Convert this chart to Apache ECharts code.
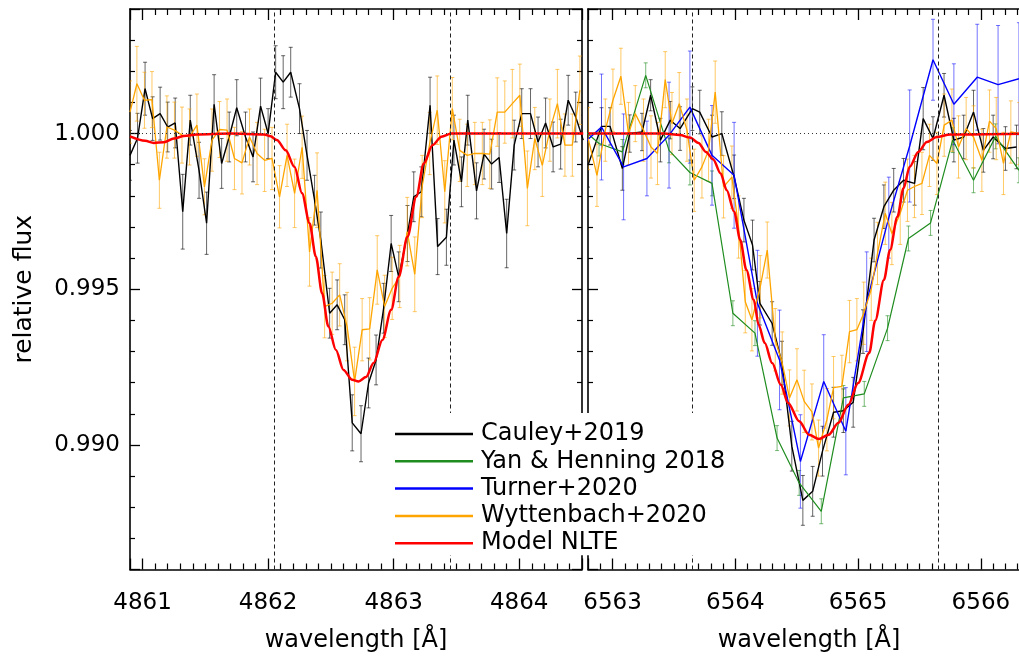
<!DOCTYPE html>
<html>
<head>
<meta charset="utf-8">
<script src="https://cdn.jsdelivr.net/npm/echarts@6/dist/echarts.min.js"></script>
<style>
  html, body { margin: 0; padding: 0; background: #fff; }
  #chart { width: 1019px; height: 657px; }
</style>
</head>
<body>
<div id="chart"></div>
<script>
// ---------------- H-beta panel (left) ----------------
const hbCauleyWave = [4860.90, 4860.96, 4861.02, 4861.08, 4861.14, 4861.20, 4861.26, 4861.32, 4861.38, 4861.45,
  4861.51, 4861.57, 4861.63, 4861.69, 4861.75, 4861.82, 4861.88, 4861.94, 4862.00, 4862.06,
  4862.12, 4862.18, 4862.25, 4862.31, 4862.37, 4862.42, 4862.49, 4862.55, 4862.61, 4862.67,
  4862.74, 4862.80, 4862.86, 4862.92, 4862.98, 4863.04, 4863.11, 4863.16, 4863.22, 4863.29,
  4863.35, 4863.42, 4863.48, 4863.54, 4863.59, 4863.66, 4863.72, 4863.78, 4863.84, 4863.90,
  4863.96, 4864.02, 4864.09, 4864.15, 4864.21, 4864.27, 4864.33, 4864.39, 4864.45, 4864.51];
const hbCauleyFlux = [0.99930, 0.99985, 1.00144, 1.00048, 1.00064, 1.00021, 1.00034, 0.99749, 1.00043, 0.99882,
  0.99712, 1.00094, 0.99904, 0.99989, 1.00083, 0.99989, 0.99925, 1.00088, 1.00000, 1.00197,
  1.00165, 1.00197, 1.00080, 0.99930, 0.99786, 0.99658, 0.99423, 0.99450, 0.99402, 0.99071,
  0.99036, 0.99199, 0.99273, 0.99439, 0.99647, 0.99540, 0.99679, 0.99797, 0.99813, 1.00091,
  0.99637, 0.99667, 0.99979, 0.99845, 1.00043, 0.99816, 0.99934, 0.99902, 0.99923, 0.99679,
  0.99963, 1.00064, 1.00064, 0.99973, 1.00034, 0.99957, 0.99966, 1.00107, 1.00053, 0.99979];
const hbCauleyErr = [0.0008, 0.0008, 0.00085, 0.0007, 0.00085, 0.0008, 0.0008, 0.0012, 0.0008, 0.0009,
  0.0010, 0.00095, 0.0008, 0.0008, 0.0009, 0.0008, 0.0008, 0.0009, 0.0008, 0.00085,
  0.00085, 0.0008, 0.0008, 0.0008, 0.0008, 0.0009, 0.0008, 0.0008, 0.0008, 0.0009,
  0.0009, 0.0008, 0.0008, 0.0008, 0.0009, 0.0008, 0.0009, 0.0008, 0.0008, 0.0009,
  0.0009, 0.0009, 0.0008, 0.0008, 0.0008, 0.0009, 0.0008, 0.0008, 0.0008, 0.0011,
  0.0008, 0.0008, 0.0008, 0.0008, 0.0008, 0.0008, 0.0008, 0.0008, 0.0008, 0.0008];

const hbWyttWave = [4860.900, 4860.955, 4861.015, 4861.075, 4861.134, 4861.194, 4861.254, 4861.314, 4861.374, 4861.433,
  4861.493, 4861.553, 4861.613, 4861.673, 4861.732, 4861.792, 4861.852, 4861.912, 4861.972, 4862.031,
  4862.091, 4862.151, 4862.211, 4862.271, 4862.330, 4862.390, 4862.450, 4862.510, 4862.570, 4862.629,
  4862.689, 4862.749, 4862.809, 4862.869, 4862.928, 4862.988, 4863.048, 4863.108, 4863.168, 4863.227,
  4863.287, 4863.347, 4863.407, 4863.467, 4863.526, 4863.586, 4863.646, 4863.706, 4863.766, 4863.825,
  4863.885, 4863.945, 4864.005, 4864.065, 4864.124, 4864.184, 4864.244, 4864.304, 4864.364, 4864.423,
  4864.483];
const hbWyttFlux = [1.00069, 1.00160, 1.00107, 1.00109, 0.99850, 1.00021, 1.00011, 0.99995, 0.99989, 1.00027,
  0.99829, 0.99979, 1.00013, 1.00011, 0.99920, 0.99906, 0.99989, 0.99936, 0.99914, 0.99920,
  0.99797, 0.99930, 0.99808, 0.99956, 0.99620, 0.99818, 0.99444, 0.99455, 0.99482, 0.99380,
  0.99204, 0.99370, 0.99373, 0.99562, 0.99445, 0.99503, 0.99541, 0.99685, 0.99548, 0.99830,
  0.99968, 1.00075, 0.99813, 1.00080, 0.99946, 0.99930, 0.99936, 0.99936, 0.99934, 1.00069,
  1.00069, 1.00096, 1.00123, 0.99824, 0.99984, 0.99898, 1.00011, 1.00096, 0.99963, 0.99963,
  1.00139];
const hbWyttErr = [0.0010, 0.0012, 0.0009, 0.0009, 0.0009, 0.0010, 0.0009, 0.0009, 0.0009, 0.0010,
  0.0009, 0.0010, 0.0009, 0.0010, 0.0010, 0.0010, 0.0009, 0.0010, 0.0010, 0.0010,
  0.0010, 0.0010, 0.0011, 0.0010, 0.0011, 0.0012, 0.0010, 0.0010, 0.0010, 0.0011,
  0.0011, 0.0010, 0.0010, 0.0011, 0.0010, 0.0010, 0.0010, 0.0011, 0.0012, 0.0010,
  0.0010, 0.0011, 0.0010, 0.0010, 0.0010, 0.0010, 0.0010, 0.0010, 0.0011, 0.0011,
  0.0010, 0.0011, 0.0010, 0.0012, 0.0010, 0.0010, 0.0010, 0.0011, 0.0010, 0.0010,
  0.0011];

const hbModelWave = [4860.90, 4861.02, 4861.09, 4861.17, 4861.25, 4861.33, 4861.43, 4861.70, 4861.97, 4862.02,
  4862.07, 4862.14, 4862.21, 4862.27, 4862.33, 4862.38, 4862.43, 4862.48, 4862.54, 4862.60,
  4862.67, 4862.72, 4862.78, 4862.84, 4862.91, 4862.98, 4863.04, 4863.11, 4863.18, 4863.24,
  4863.31, 4863.38, 4863.46, 4864.51];
const hbModelFlux = [0.99991, 0.99977, 0.99970, 0.99972, 0.99984, 0.99992, 0.99997, 1.00000, 0.99997, 0.99991,
  0.99979, 0.99946, 0.99893, 0.99808, 0.99712, 0.99605, 0.99487, 0.99380, 0.99305, 0.99241,
  0.99209, 0.99204, 0.99218, 0.99263, 0.99337, 0.99434, 0.99540, 0.99669, 0.99797, 0.99904,
  0.99963, 0.99990, 1.00000, 1.00000];

// ---------------- H-alpha panel (right) ----------------
const haCauleyWave = [6562.80, 6562.91, 6562.98, 6563.08, 6563.14, 6563.24, 6563.31, 6563.39, 6563.47, 6563.55,
  6563.65, 6563.71, 6563.81, 6563.89, 6563.99, 6564.07, 6564.14, 6564.20, 6564.30, 6564.38,
  6564.46, 6564.55, 6564.63, 6564.71, 6564.80, 6564.88, 6564.96, 6565.04, 6565.13, 6565.21,
  6565.29, 6565.37, 6565.46, 6565.53, 6565.61, 6565.70, 6565.78, 6565.86, 6565.94, 6566.02,
  6566.10, 6566.20, 6566.29];
const haCauleyFlux = [0.99898, 1.00023, 1.00023, 0.99888, 1.00000, 1.00005, 1.00123, 0.99979, 1.00043, 1.00016,
  1.00080, 1.00069, 0.99989, 1.00000, 0.99861, 0.99722, 0.99642, 0.99455, 0.99390, 0.99263,
  0.98996, 0.98822, 0.98851, 0.98980, 0.99105, 0.99110, 0.99137, 0.99364, 0.99658, 0.99765,
  0.99818, 0.99850, 0.99840, 1.00048, 0.99984, 1.00123, 0.99979, 0.99989, 1.00069, 0.99946,
  0.99989, 0.99952, 0.99957];
const haCauleyErr = [0.0007, 0.0006, 0.0006, 0.0007, 0.0006, 0.0006, 0.0005, 0.0007, 0.0006, 0.0007,
  0.0007, 0.0007, 0.0007, 0.0007, 0.0007, 0.0007, 0.0008, 0.0007, 0.0007, 0.0007,
  0.0008, 0.0008, 0.0008, 0.0008, 0.0008, 0.0007, 0.0008, 0.0007, 0.0007, 0.0007,
  0.0007, 0.0007, 0.0007, 0.0010, 0.0007, 0.0007, 0.0007, 0.0007, 0.0007, 0.0007,
  0.0007, 0.0007, 0.0007];

const haYanWave = [6562.71, 6562.89, 6563.08, 6563.27, 6563.46, 6563.63, 6563.81, 6563.98, 6564.16, 6564.34,
  6564.52, 6564.70, 6564.88, 6565.05, 6565.24, 6565.41, 6565.59, 6565.77, 6565.94, 6566.12,
  6566.31];
const haYanFlux = [1.00030, 0.99968, 0.99941, 1.00187, 0.99946, 0.99875, 0.99840, 0.99423, 0.99359, 0.99022,
  0.98878, 0.98787, 0.99151, 0.99164, 0.99375, 0.99663, 0.99713, 0.99979, 0.99850, 0.99991,
  0.99882];
const haYanErr = [0.0004, 0.0004, 0.0004, 0.0004, 0.0004, 0.0004, 0.0004, 0.0004, 0.0004, 0.0004,
  0.0004, 0.0004, 0.0004, 0.0004, 0.0004, 0.0004, 0.0004, 0.0004, 0.0004, 0.0004,
  0.0004];

const haTurnerWave = [6562.74, 6562.91, 6563.09, 6563.28, 6563.46, 6563.63, 6563.81, 6563.99, 6564.18, 6564.36,
  6564.53, 6564.72, 6564.90, 6565.07, 6565.25, 6565.42, 6565.61, 6565.78, 6565.97, 6566.14,
  6566.31];
const haTurnerFlux = [0.99960, 1.00021, 0.99893, 0.99920, 0.99995, 1.00085, 0.99930, 0.99866, 0.99455, 0.99273,
  0.98947, 0.99204, 0.99044, 0.99460, 0.99730, 0.99960, 1.00237, 1.00094, 1.00181, 1.00157,
  1.00176];
const haTurnerErr = [0.0016, 0.0017, 0.0017, 0.0012, 0.0017, 0.0018, 0.0016, 0.0017, 0.0017, 0.0016,
  0.0015, 0.0015, 0.0014, 0.0016, 0.0013, 0.0018, 0.0013, 0.0013, 0.0017, 0.0019,
  0.0018];

const haWyttWave = [6562.802, 6562.873, 6562.941, 6563.003, 6563.068, 6563.130, 6563.185, 6563.252, 6563.313, 6563.366,
  6563.429, 6563.484, 6563.543, 6563.606, 6563.665, 6563.728, 6563.782, 6563.836, 6563.904, 6563.972,
  6564.026, 6564.081, 6564.135, 6564.203, 6564.260, 6564.325, 6564.382, 6564.441, 6564.502, 6564.561,
  6564.624, 6564.678, 6564.746, 6564.800, 6564.868, 6564.930, 6564.990, 6565.046, 6565.107, 6565.158,
  6565.221, 6565.275, 6565.343, 6565.402, 6565.459, 6565.520, 6565.581, 6565.642, 6565.701, 6565.764,
  6565.818, 6565.880, 6565.940, 6566.008, 6566.070, 6566.125, 6566.184, 6566.244, 6566.312];
const haWyttFlux = [0.99984, 0.99866, 1.00011, 1.00107, 1.00184, 1.00000, 1.00064, 1.00011, 0.99957, 0.99936,
  1.00173, 1.00032, 1.00096, 1.00011, 0.99850, 0.99893, 0.99946, 1.00133, 0.99829, 0.99860,
  0.99700, 0.99460, 0.99402, 0.99508, 0.99626, 0.99338, 0.99263, 0.99151, 0.99209, 0.99140,
  0.99106, 0.98990, 0.99081, 0.99184, 0.99188, 0.99364, 0.99370, 0.99423, 0.99500, 0.99615,
  0.99744, 0.99679, 0.99744, 0.99818, 0.99830, 0.99840, 0.99930, 0.99904, 1.00027, 1.00043,
  0.99957, 1.00016, 0.99989, 0.99914, 1.00040, 1.00016, 0.99904, 1.00005, 1.00000];
const haWyttErr = [0.0010, 0.0010, 0.0010, 0.0010, 0.0009, 0.0010, 0.0009, 0.0010, 0.0010, 0.0010,
  0.0009, 0.0010, 0.0010, 0.0010, 0.0010, 0.0010, 0.0010, 0.0010, 0.0010, 0.0010,
  0.0010, 0.0010, 0.0010, 0.0010, 0.0009, 0.0010, 0.0010, 0.0009, 0.0010, 0.0010,
  0.0009, 0.0009, 0.0010, 0.0010, 0.0010, 0.0010, 0.0010, 0.0010, 0.0010, 0.0010,
  0.0010, 0.0010, 0.0010, 0.0010, 0.0010, 0.0010, 0.0010, 0.0010, 0.0010, 0.0010,
  0.0010, 0.0010, 0.0010, 0.0010, 0.0010, 0.0010, 0.0010, 0.0010, 0.0010];

const haModelWave = [6562.80, 6563.42, 6563.55, 6563.63, 6563.70, 6563.76, 6563.82, 6563.88, 6563.93, 6563.99,
  6564.04, 6564.09, 6564.15, 6564.19, 6564.24, 6564.30, 6564.37, 6564.43, 6564.52, 6564.60,
  6564.68, 6564.76, 6564.84, 6564.92, 6565.00, 6565.09, 6565.14, 6565.21, 6565.26, 6565.32,
  6565.37, 6565.42, 6565.49, 6565.56, 6565.64, 6565.75, 6566.40];
const haModelFlux = [1.00000, 1.00000, 0.99995, 0.99987, 0.99970, 0.99941, 0.99917, 0.99872, 0.99818, 0.99749,
  0.99658, 0.99562, 0.99466, 0.99385, 0.99327, 0.99263, 0.99193, 0.99135, 0.99076, 0.99033,
  0.99019, 0.99033, 0.99071, 0.99129, 0.99199, 0.99295, 0.99400, 0.99530, 0.99626, 0.99733,
  0.99824, 0.99893, 0.99941, 0.99973, 0.99989, 0.99997, 1.00000];

// reference wavelengths (dashed) and continuum level (dotted)
const hbMarkers = [4862.05, 4863.45];
const haMarkers = [6563.65, 6565.65];
const continuum = 1.0;

// axis ranges
const hbRange = [4860.9, 4864.5];
const haRange = [6562.8, 6566.4];
const fluxRange = [0.986, 1.004];

const legendNames = ['Cauley+2019', 'Yan & Henning 2018', 'Turner+2020', 'Wyttenbach+2020', 'Model NLTE'];
const colors = {
  'Cauley+2019': '#000000',
  'Yan & Henning 2018': '#1e8c1e',
  'Turner+2020': '#0000ff',
  'Wyttenbach+2020': '#ffa500',
  'Model NLTE': '#ff0000'
};
const barColors = {
  'Cauley+2019': 'rgba(0,0,0,0.6)',
  'Yan & Henning 2018': 'rgba(30,140,30,0.6)',
  'Turner+2020': 'rgba(0,0,255,0.55)',
  'Wyttenbach+2020': 'rgba(255,165,0,0.6)'
};

const FONT = 'DejaVu Sans';

const intLabel = v => Math.abs(v - Math.round(v)) < 1e-6 ? String(Math.round(v)) : '';
const fluxLabel = v => {
  const k = v / 0.005;
  return Math.abs(k - Math.round(k)) < 1e-6 ? v.toFixed(3) : '';
};

function xAxisDef(gridIndex, range, position, withLabels) {
  return {
    type: 'value', gridIndex, position, min: range[0], max: range[1],
    minInterval: 1, maxInterval: 1,
    axisLine: { onZero: false, lineStyle: { color: '#000', width: 1.6 } },
    axisTick: { show: true, inside: true, length: 11, lineStyle: { color: '#000', width: 1.3 } },
    minorTick: { show: true, splitNumber: 10, length: 6, lineStyle: { color: '#000', width: 1.2 } },
    splitLine: { show: false },
    axisLabel: withLabels ? {
      show: true, formatter: intLabel, margin: 22, color: '#000',
      fontFamily: FONT, fontSize: 23, showMinLabel: true, showMaxLabel: true
    } : { show: false },
    name: withLabels ? 'wavelength [Å]' : '',
    nameLocation: 'middle', nameGap: 59,
    nameTextStyle: { fontFamily: FONT, fontSize: 24, color: '#000' }
  };
}

function yAxisDef(gridIndex, position, withLabels) {
  return {
    type: 'value', gridIndex, position, min: fluxRange[0], max: fluxRange[1],
    minInterval: 0.005, maxInterval: 0.005,
    axisLine: { onZero: false, lineStyle: { color: '#000', width: 1.6 } },
    axisTick: { show: true, inside: true, length: 10, lineStyle: { color: '#000', width: 1.3 } },
    minorTick: { show: true, splitNumber: 5, length: 5, lineStyle: { color: '#000', width: 1.2 } },
    splitLine: { show: false },
    axisLabel: withLabels ? {
      show: true, formatter: fluxLabel, margin: 10, color: '#000',
      fontFamily: FONT, fontSize: 23
    } : { show: false },
    name: withLabels ? 'relative flux' : '',
    nameLocation: 'middle', nameGap: 93, nameRotate: 90,
    nameTextStyle: { fontFamily: FONT, fontSize: 25, color: '#000' }
  };
}

function errorSeries(name, xi, yi, wave, flux, err) {
  return {
    type: 'custom', name: name + ' (errors)', xAxisIndex: xi, yAxisIndex: yi,
    z: 1, silent: true, clip: true, animation: false,
    dimensions: ['wave', 'flux', 'err'], encode: { x: 0, y: 1 },
    data: wave.map((x, i) => [x, flux[i], err[i]]),
    renderItem(params, api) {
      const x = api.value(0), y = api.value(1), e = api.value(2);
      const top = api.coord([x, y + e]);
      const bot = api.coord([x, y - e]);
      const hw = 2;
      const style = { stroke: barColors[name], lineWidth: 1, fill: null };
      return {
        type: 'group',
        children: [
          { type: 'line', shape: { x1: top[0], y1: top[1], x2: bot[0], y2: bot[1] }, style },
          { type: 'line', shape: { x1: top[0] - hw, y1: top[1], x2: top[0] + hw, y2: top[1] }, style },
          { type: 'line', shape: { x1: bot[0] - hw, y1: bot[1], x2: bot[0] + hw, y2: bot[1] }, style }
        ]
      };
    }
  };
}

function lineSeries(name, xi, yi, wave, flux, width, extra) {
  return Object.assign({
    type: 'line', name, xAxisIndex: xi, yAxisIndex: yi, z: 2,
    data: wave.map((x, i) => [x, flux[i]]),
    showSymbol: false, symbol: 'none', clip: true, silent: true, animation: false,
    itemStyle: { color: colors[name] },
    lineStyle: { color: colors[name], width },
    emphasis: { disabled: true }
  }, extra || {});
}

function guideLines(markers) {
  return {
    silent: true, symbol: 'none', animation: false,
    label: { show: false },
    emphasis: { disabled: true },
    lineStyle: { color: '#222', width: 1, type: [4, 3] },
    data: markers.map(v => ({ xAxis: v })).concat([
      { yAxis: continuum, lineStyle: { color: '#333', width: 1, type: [1, 3] } }
    ])
  };
}

const series = [
  // H-beta
  errorSeries('Cauley+2019', 0, 0, hbCauleyWave, hbCauleyFlux, hbCauleyErr),
  lineSeries('Cauley+2019', 0, 0, hbCauleyWave, hbCauleyFlux, 1.4, { markLine: guideLines(hbMarkers) }),
  errorSeries('Wyttenbach+2020', 0, 0, hbWyttWave, hbWyttFlux, hbWyttErr),
  lineSeries('Wyttenbach+2020', 0, 0, hbWyttWave, hbWyttFlux, 1.3),
  lineSeries('Model NLTE', 0, 0, hbModelWave, hbModelFlux, 2.5, { smooth: 0.3, smoothMonotone: 'x' }),
  // H-alpha
  errorSeries('Cauley+2019', 2, 2, haCauleyWave, haCauleyFlux, haCauleyErr),
  lineSeries('Cauley+2019', 2, 2, haCauleyWave, haCauleyFlux, 1.4, { markLine: guideLines(haMarkers) }),
  errorSeries('Yan & Henning 2018', 2, 2, haYanWave, haYanFlux, haYanErr),
  lineSeries('Yan & Henning 2018', 2, 2, haYanWave, haYanFlux, 1.2),
  errorSeries('Turner+2020', 2, 2, haTurnerWave, haTurnerFlux, haTurnerErr),
  lineSeries('Turner+2020', 2, 2, haTurnerWave, haTurnerFlux, 1.4),
  errorSeries('Wyttenbach+2020', 2, 2, haWyttWave, haWyttFlux, haWyttErr),
  lineSeries('Wyttenbach+2020', 2, 2, haWyttWave, haWyttFlux, 1.3),
  lineSeries('Model NLTE', 2, 2, haModelWave, haModelFlux, 2.5, { smooth: 0.3, smoothMonotone: 'x' })
];

const option = {
  animation: false,
  backgroundColor: '#fff',
  textStyle: { fontFamily: FONT },
  grid: [
    { left: 130, top: 9, width: 452, height: 560.5, outerBoundsMode: 'none', containLabel: false },
    { left: 588, top: 9, width: 442, height: 560.5, outerBoundsMode: 'none', containLabel: false }
  ],
  xAxis: [
    xAxisDef(0, hbRange, 'bottom', true),
    xAxisDef(0, hbRange, 'top', false),
    xAxisDef(1, haRange, 'bottom', true),
    xAxisDef(1, haRange, 'top', false)
  ],
  yAxis: [
    yAxisDef(0, 'left', true),
    yAxisDef(0, 'right', false),
    yAxisDef(1, 'left', false)
  ],
  legend: {
    data: legendNames.map(n => ({ name: n, icon: 'rect' })),
    orient: 'vertical', left: 385, top: 413, z: 10,
    backgroundColor: '#fff', padding: [9, 14, 0, 10],
    itemWidth: 78, itemHeight: 2.5, itemGap: 3.3,
    selectedMode: false,
    textStyle: { fontFamily: FONT, fontSize: 24, color: '#000', padding: [0, 0, 0, 3] }
  },
  series
};

const chart = echarts.init(document.getElementById('chart'), null, { renderer: 'canvas' });
chart.setOption(option);
</script>
</body>
</html>
